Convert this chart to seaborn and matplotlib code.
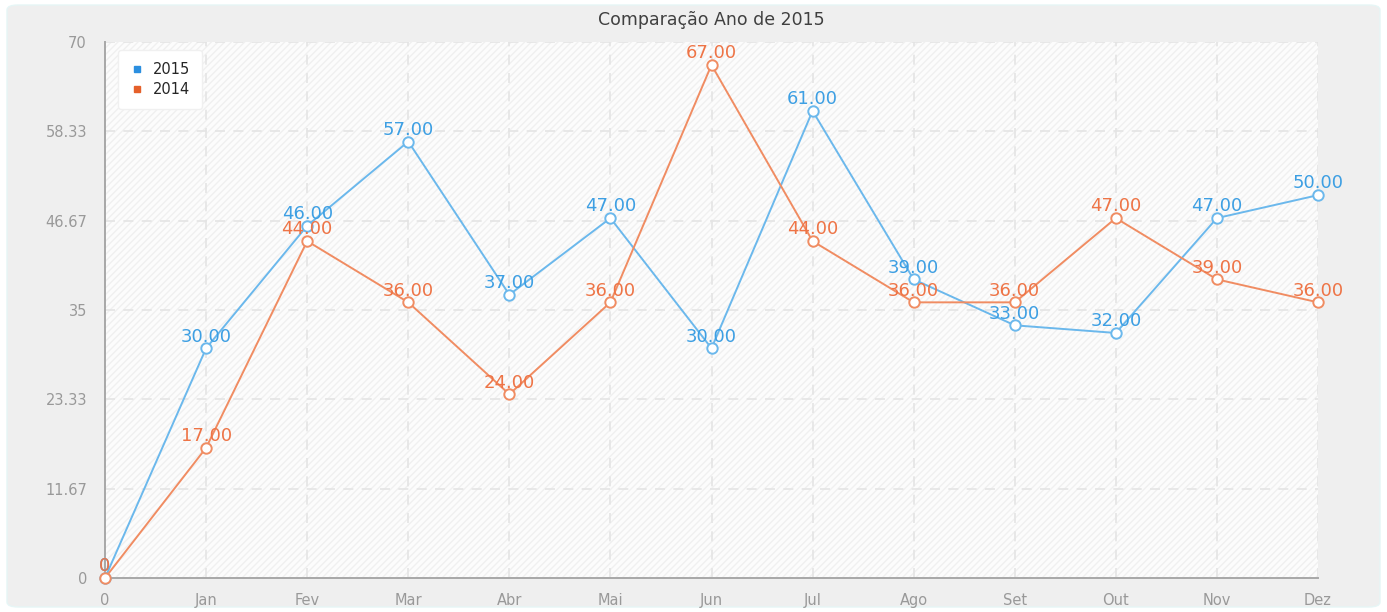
import matplotlib
matplotlib.use("Agg")
import matplotlib.pyplot as plt
import seaborn as sns
import pandas as pd
from matplotlib.patches import FancyBboxPatch, Rectangle
from matplotlib.lines import Line2D

months = ["0", "Jan", "Fev", "Mar", "Abr", "Mai", "Jun", "Jul", "Ago", "Set", "Out", "Nov", "Dez"]
vals_2015 = [0, 30, 46, 57, 37, 47, 30, 61, 39, 33, 32, 47, 50]
vals_2014 = [0, 17, 44, 36, 24, 36, 67, 44, 36, 36, 47, 39, 36]
yticks = [0, 11.67, 23.33, 35, 46.67, 58.33, 70]
ytick_labels = ["0", "11.67", "23.33", "35", "46.67", "58.33", "70"]
title = "Comparação Ano de 2015"

line_colors = {"2015": "#6bb8ec", "2014": "#f08c62"}
text_colors = {"2015": "#3d9fe3", "2014": "#ee7446"}
legend_colors = {"2015": "#2b8fe0", "2014": "#e5602a"}

sns.set_style("white")
plt.rcParams["font.family"] = ["DejaVu Sans"]

df = pd.DataFrame({
    "x": list(range(len(months))) * 2,
    "valor": vals_2015 + vals_2014,
    "ano": ["2015"] * len(months) + ["2014"] * len(months),
})

fig = plt.figure(figsize=(13.87, 6.12), dpi=100, facecolor="white")
bg = FancyBboxPatch((7 / 1387, 5 / 612), 1373 / 1387, 602 / 612,
                    boxstyle="round,pad=0,rounding_size=0.008",
                    transform=fig.transFigure, facecolor="#efefef",
                    edgecolor="#e6f6f6", linewidth=1.0, zorder=-10)
fig.patches.append(bg)

ax = fig.add_axes([105 / 1387, 1 - 578 / 612, (1318 - 105) / 1387, (578 - 42) / 612])
ax.set_facecolor("#fcfcfc")
ax.add_patch(Rectangle((0, 0), 1, 1, transform=ax.transAxes, facecolor="#fcfcfc",
                       edgecolor="#f0f0f0", hatch="/////", linewidth=0, zorder=0))

sns.lineplot(data=df, x="x", y="valor", hue="ano", palette=line_colors,
             hue_order=["2015", "2014"], ax=ax, legend=False, linewidth=1.4,
             marker="o", markersize=7.5, markerfacecolor="white", markeredgewidth=1.4,
             zorder=3)
for line, key in zip(ax.get_lines(), ["2015", "2014"]):
    line.set_markeredgecolor(line_colors[key])
    line.set_clip_on(False)

ax.set_xlim(0, len(months) - 1)
ax.set_ylim(0, 70)
ax.set_xticks(range(len(months)))
ax.set_xticklabels(months)
ax.set_yticks(yticks)
ax.set_yticklabels(ytick_labels)
ax.set_xlabel("")
ax.set_ylabel("")
ax.grid(True, color="#e4e4e4", linestyle=(0, (6, 5)), linewidth=1.2)
ax.set_axisbelow(True)
for s in ["top", "right"]:
    ax.spines[s].set_visible(False)
for s in ["left", "bottom"]:
    ax.spines[s].set_color("#a8a8a8")
    ax.spines[s].set_linewidth(1.4)
ax.tick_params(axis="both", colors="#a8a8a8", labelcolor="#999999", labelsize=10.5,
               length=5, width=1.4, direction="out")
ax.tick_params(axis="x", pad=6)
ax.tick_params(axis="y", pad=8)

for key, vals in [("2015", vals_2015), ("2014", vals_2014)]:
    for i, v in enumerate(vals):
        lab = "0" if i == 0 else f"{v:.2f}"
        ax.text(i, v + 0.35, lab, ha="center", va="bottom", fontsize=13,
                color=text_colors[key], zorder=4, clip_on=False)

ax.set_title(title, fontsize=12.5, color="#404040", pad=12)

handles = [Line2D([], [], linestyle="none", marker="s", markersize=5,
                  markerfacecolor=legend_colors[k], markeredgecolor=legend_colors[k], label=k)
           for k in ["2015", "2014"]]
leg = ax.legend(handles=handles, loc="upper left", bbox_to_anchor=(0.005, 0.998),
                frameon=True, fontsize=10.5, handletextpad=0.6, borderpad=0.8,
                labelspacing=0.35, handlelength=1.0, fancybox=True)
leg.get_frame().set_facecolor("white")
leg.get_frame().set_edgecolor("#f0f0f0")
leg.get_frame().set_alpha(1)

fig.savefig("out.png", dpi=100, facecolor=fig.get_facecolor())
